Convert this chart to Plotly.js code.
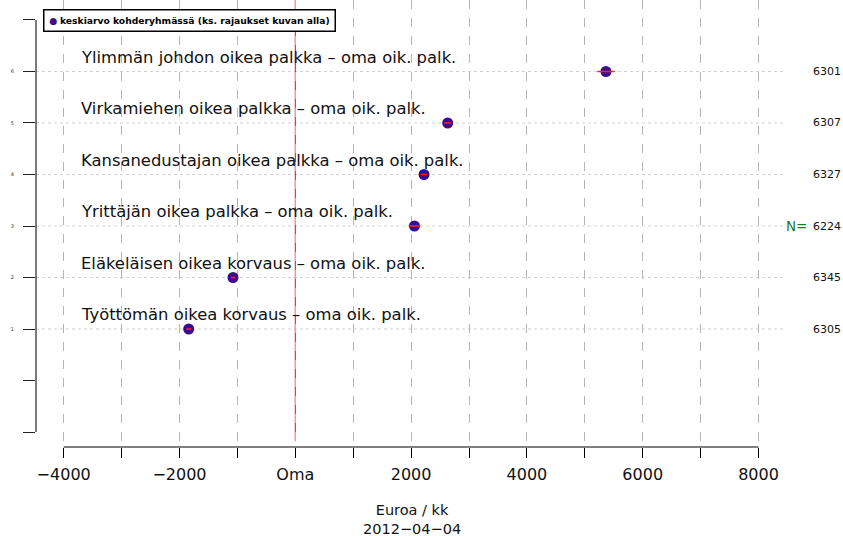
<!DOCTYPE html>
<html>
<head>
<meta charset="utf-8">
<script src="https://cdn.plot.ly/plotly-3.0.1.min.js"></script>
<style>html,body{margin:0;padding:0;background:#fff;}#chart{width:843px;height:536px;}</style>
</head>
<body>
<div id="chart"></div>
<script>
// Data (bottom to top)
const labels = [
  "Työttömän oikea korvaus – oma oik. palk.",
  "Eläkeläisen oikea korvaus – oma oik. palk.",
  "Yrittäjän oikea palkka – oma oik. palk.",
  "Kansanedustajan oikea palkka – oma oik. palk.",
  "Virkamiehen oikea palkka – oma oik. palk.",
  "Ylimmän johdon oikea palkka – oma oik. palk."
];
const ypos = [1, 2, 3, 4, 5, 6];
const means = [-1841, -1076, 2058, 2223, 2632, 5365];
const errs = [40, 40, 100, 50, 60, 150];
const ns = [6305, 6345, 6224, 6327, 6307, 6301];
const xTickVals = [-4000, -3000, -2000, -1000, 0, 1000, 2000, 3000, 4000, 5000, 6000, 7000, 8000];
const xTickText = ["−4000", "", "−2000", "", "Oma", "", "2000", "", "4000", "", "6000", "", "8000"];
const yTickVals = [-1, 0, 1, 2, 3, 4, 5, 6, 7];
const yTickText = ["", "", "1", "2", "3", "4", "5", "6", ""];
const legendText = "keskiarvo kohderyhmässä (ks. rajaukset kuvan alla)";
const xTitle = "Euroa / kk";
const dateText = "2012−04−04";

const FONT = "DejaVu Sans, Liberation Sans, Arial, sans-serif";
const PURPLE = "#3a0c8f";

const ex = [], ey = [];
means.forEach((m, i) => { ex.push(m - errs[i], m + errs[i], null); ey.push(ypos[i], ypos[i], null); });

const traces = [
  { type: "scatter", mode: "markers", x: means, y: ypos, showlegend: false,
    marker: { color: PURPLE, size: 11, line: { width: 0 } }, hoverinfo: "skip" },
  { type: "scatter", mode: "lines", x: ex, y: ey, showlegend: false,
    line: { color: "#ff2020", width: 1.5 }, hoverinfo: "skip" }
];

const shapes = [];
ypos.forEach(v => shapes.push({ type: "line", xref: "paper", x0: 0, x1: 1, yref: "y", y0: v, y1: v,
  line: { color: "#d2d2d2", width: 1, dash: "dot" }, layer: "below" }));
shapes.push({ type: "line", xref: "x", x0: 0, x1: 0, yref: "paper", y0: 0.013, y1: 1,
  line: { color: "#ff0000", width: 1 }, layer: "below" });
shapes.push({ type: "line", xref: "x", x0: xTickVals[0], x1: xTickVals[xTickVals.length - 1], yref: "paper", y0: 0, y1: 0,
  line: { color: "#000", width: 1 } });
shapes.push({ type: "line", xref: "paper", x0: 0, x1: 0, yref: "y", y0: yTickVals[0], y1: yTickVals[yTickVals.length - 1],
  line: { color: "#222", width: 1.2 } });

const annotations = [];
labels.forEach((t, i) => annotations.push({ text: t, xref: "x", x: -3740, yref: "y", y: ypos[i] + 0.28,
  xanchor: "left", yanchor: "middle", showarrow: false, font: { family: FONT, size: 16.4, color: "#111" } }));
ns.forEach((n, i) => annotations.push({ text: String(n), xref: "paper", x: 1.035, yref: "y", y: ypos[i],
  xanchor: "left", yanchor: "middle", showarrow: false, font: { family: FONT, size: 11, color: "#111" } }));
annotations.push({ text: "N=", xref: "paper", x: 1.032, yref: "y", y: 3, xanchor: "right", yanchor: "middle",
  showarrow: false, font: { family: FONT, size: 13.5, color: "#1f7a1f" } });
annotations.push({ text: "<span style='color:" + PURPLE + "'>●</span> <b>" + legendText + "</b>",
  xref: "paper", x: 0.0093, yref: "paper", y: 0.98, xanchor: "left", yanchor: "top", showarrow: false,
  bgcolor: "#fff", bordercolor: "#000", borderwidth: 1.5, borderpad: 4.5, align: "left",
  font: { family: FONT, size: 9.2, color: "#000" } });
annotations.push({ text: xTitle + "<br>" + dateText, xref: "paper", x: 0.502, yref: "paper", y: -0.1622,
  xanchor: "center", yanchor: "middle", align: "center",
  showarrow: false, font: { family: FONT, size: 14.5, color: "#111" } });

const layout = {
  width: 843, height: 536,
  margin: { l: 36, r: 58, t: 0, b: 89 },
  paper_bgcolor: "#fff", plot_bgcolor: "#fff",
  showlegend: false,
  xaxis: { range: [-4478, 8457], tickvals: xTickVals, ticktext: xTickText, ticks: "outside", ticklen: 10,
    tickcolor: "#000", tickwidth: 1, showgrid: true, gridcolor: "#b4b4b4", griddash: "dash", gridwidth: 1,
    zeroline: false, showline: false, tickfont: { family: FONT, size: 16, color: "#111" }, ticklabelstandoff: 3,
    fixedrange: true },
  yaxis: { range: [-1.291, 7.388], tickvals: yTickVals, ticktext: yTickText, ticks: "outside", ticklen: 12,
    tickcolor: "#222", tickwidth: 1, showgrid: false, zeroline: false, showline: false,
    tickfont: { family: FONT, size: 5, color: "#333" }, ticklabelstandoff: 8, fixedrange: true },
  shapes: shapes,
  annotations: annotations
};

Plotly.newPlot("chart", traces, layout, { displayModeBar: false, staticPlot: true });
</script>
</body>
</html>
